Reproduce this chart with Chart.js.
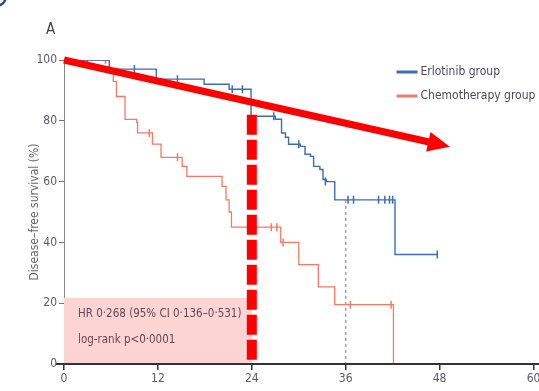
<!DOCTYPE html>
<html><head><meta charset="utf-8">
<script src="https://cdn.jsdelivr.net/npm/chart.js@4"></script>
<style>html,body{margin:0;padding:0;background:#fff;}canvas{display:block;}</style>
</head><body>
<canvas id="c" width="539" height="391"></canvas>
<script>
// ---- data ----
const xTicks = [0, 12, 24, 36, 48, 60];
const yTicks = [0, 20, 40, 60, 80, 100];
const seriesNames = ['Erlotinib group', 'Chemotherapy group'];

const erlotinibX = [0, 5.8, 11.8, 17.9, 21.1, 23.9, 27.0, 27.8, 28.3, 28.7, 30.2, 30.8, 31.5, 31.9, 32.7, 33.1, 33.5, 34.6, 42.3, 47.7];
const erlotinibY = [100, 97, 93.7, 92, 90.4, 81.5, 80.5, 76, 74.6, 72.3, 71.6, 69, 68.3, 65, 64, 60.7, 60, 54, 36, 36];
const erlotinibCensorX = [3, 9, 14.5, 21.5, 22.8, 26.8, 30.0, 33.4, 36.3, 37.0, 40.2, 41.0, 41.6, 42.0, 47.7];
const erlotinibCensorY = [100, 97, 93.7, 90.4, 90.4, 81.5, 72.3, 60, 54, 54, 54, 54, 54, 54, 36];

const chemoX = [0, 5.8, 6.3, 6.7, 7.8, 9.3, 9.4, 11.3, 12.4, 15.1, 15.7, 20.2, 20.7, 21.1, 21.4, 27.7, 30.0, 32.5, 34.6, 42.1];
const chemoY = [100, 96, 93, 88, 80.5, 79.5, 76, 72.3, 68, 65, 61.7, 58.4, 54, 50, 45, 40, 32.7, 25.4, 19.5, 0];
const chemoCensorX = [5.3, 10.9, 14.5, 26.5, 27.2, 28.0, 36.6, 41.8];
const chemoCensorY = [100, 76, 68, 45, 45, 40, 19.5, 19.5];

// annotations (data coordinates)
const hrBoxX = [0, 24];
const hrBoxY = [0, 21.8];
const hrText = ['HR 0·268 (95% CI 0·136–0·531)', 'log-rank p<0·0001'];
const cutoffLine = { x: 24, top: 82 };
const landmarkLine = { x: 36, top: 54 };
const arrowFrom = [0, 100];
const arrowTo = [49.3, 71.5];

const BLUE = '#3b6db4';
const RED = '#f47a64';
const NARROW = "'DejaVu Sans Condensed','Liberation Sans Narrow',sans-serif";

const pts = (xs, ys) => xs.map((v, i) => ({ x: v, y: ys[i] }));

const overlay = {
  id: 'overlay',
  beforeDatasetsDraw(chart) {
    const { ctx, scales: { x, y } } = chart;
    ctx.save();
    const bx0 = x.getPixelForValue(hrBoxX[0]), bx1 = x.getPixelForValue(hrBoxX[1]);
    const by0 = y.getPixelForValue(hrBoxY[1]), by1 = y.getPixelForValue(hrBoxY[0]);
    ctx.fillStyle = '#fcd4d4';
    ctx.fillRect(bx0, by0, bx1 - bx0, by1 - by0);
    ctx.strokeStyle = '#a0a0a0';
    ctx.lineWidth = 1.5;
    ctx.setLineDash([3, 3]);
    ctx.beginPath();
    ctx.moveTo(x.getPixelForValue(landmarkLine.x), y.getPixelForValue(landmarkLine.top));
    ctx.lineTo(x.getPixelForValue(landmarkLine.x), y.getPixelForValue(0));
    ctx.stroke();
    ctx.setLineDash([]);
    ctx.restore();
  },
  afterDatasetsDraw(chart) {
    const { ctx, chartArea, scales: { x, y } } = chart;
    ctx.save();
    ctx.fillStyle = '#6a4652';
    ctx.font = '11.5px ' + NARROW;
    ctx.textBaseline = 'middle';
    ctx.textAlign = 'left';
    const tx = x.getPixelForValue(hrBoxX[0]) + 14;
    ctx.fillText(hrText[0], tx, y.getPixelForValue(hrBoxY[1]) + 16);
    ctx.fillText(hrText[1], tx, y.getPixelForValue(hrBoxY[1]) + 42);

    ctx.strokeStyle = '#ff0000';
    ctx.lineWidth = 10;
    ctx.setLineDash([20, 5]);
    ctx.beginPath();
    ctx.moveTo(x.getPixelForValue(cutoffLine.x), y.getPixelForValue(cutoffLine.top));
    ctx.lineTo(x.getPixelForValue(cutoffLine.x), y.getPixelForValue(0));
    ctx.stroke();
    ctx.setLineDash([]);

    const ax0 = x.getPixelForValue(arrowFrom[0]), ay0 = y.getPixelForValue(arrowFrom[1]);
    const ax1 = x.getPixelForValue(arrowTo[0]), ay1 = y.getPixelForValue(arrowTo[1]);
    const ang = Math.atan2(ay1 - ay0, ax1 - ax0);
    const headL = 22, headW = 10;
    const sx = ax1 - headL * Math.cos(ang), sy = ay1 - headL * Math.sin(ang);
    ctx.strokeStyle = '#ff0000';
    ctx.fillStyle = '#ff0000';
    ctx.lineWidth = 7;
    ctx.beginPath();
    ctx.moveTo(ax0, ay0);
    ctx.lineTo(sx + 2 * Math.cos(ang), sy + 2 * Math.sin(ang));
    ctx.stroke();
    ctx.beginPath();
    ctx.moveTo(ax1, ay1);
    ctx.lineTo(sx + headW * Math.sin(ang), sy - headW * Math.cos(ang));
    ctx.lineTo(sx - headW * Math.sin(ang), sy + headW * Math.cos(ang));
    ctx.closePath();
    ctx.fill();

    ctx.strokeStyle = '#333';
    ctx.lineWidth = 2;
    ctx.beginPath();
    ctx.moveTo(chartArea.left - 8, chartArea.bottom);
    ctx.lineTo(chart.width, chartArea.bottom);
    ctx.stroke();

    const lx = chartArea.right - 137;
    const ly = [chartArea.top + 12, chartArea.top + 36];
    const cols = [BLUE, RED];
    ctx.font = '12px ' + NARROW;
    ctx.textBaseline = 'middle';
    for (let i = 0; i < 2; i++) {
      ctx.strokeStyle = cols[i];
      ctx.lineWidth = 3;
      ctx.beginPath();
      ctx.moveTo(lx, ly[i]);
      ctx.lineTo(lx + 21, ly[i]);
      ctx.stroke();
      ctx.fillStyle = '#4a4a5a';
      ctx.fillText(seriesNames[i], lx + 24, ly[i]);
    }

    ctx.fillStyle = '#444';
    ctx.font = '15px ' + NARROW;
    ctx.textBaseline = 'alphabetic';
    ctx.fillText('A', 46, 34);
    ctx.strokeStyle = '#2a4a8a';
    ctx.lineWidth = 2.5;
    ctx.beginPath();
    ctx.arc(-4, -4, 10, 0, Math.PI / 2);
    ctx.stroke();
    ctx.restore();
  }
};

new Chart(document.getElementById('c'), {
  type: 'line',
  data: {
    datasets: [
      { label: seriesNames[0], data: pts(erlotinibX, erlotinibY), borderColor: BLUE, borderWidth: 1.4, stepped: true, pointRadius: 0, fill: false },
      { label: seriesNames[1], data: pts(chemoX, chemoY), borderColor: RED, borderWidth: 1.3, stepped: true, pointRadius: 0, fill: false },
      { label: 'c1', data: pts(erlotinibCensorX, erlotinibCensorY), showLine: false, pointStyle: 'line', pointRotation: 90, pointRadius: 4, borderColor: BLUE, borderWidth: 1.5 },
      { label: 'c2', data: pts(chemoCensorX, chemoCensorY), showLine: false, pointStyle: 'line', pointRotation: 90, pointRadius: 4, borderColor: RED, borderWidth: 1.5 }
    ]
  },
  options: {
    responsive: false,
    animation: false,
    layout: { padding: { top: 60, right: 2, left: 0, bottom: 0 } },
    plugins: { legend: { display: false }, tooltip: { enabled: false } },
    scales: {
      x: {
        type: 'linear', min: 0, max: 60,
        afterBuildTicks(s) { s.ticks = xTicks.map(v => ({ value: v })); },
        grid: { display: true, drawOnChartArea: false, drawTicks: true, tickLength: 6, color: '#333', lineWidth: 1.5 },
        border: { display: true, color: '#333', width: 2 },
        ticks: { color: '#5a5a66', font: { family: NARROW, size: 12 }, padding: 2, maxRotation: 0, autoSkip: false },
        afterFit(s) { s.height = 27; s.paddingLeft = 0; s.paddingRight = 0; }
      },
      y: {
        min: 0, max: 100,
        afterBuildTicks(s) { s.ticks = yTicks.map(v => ({ value: v })); },
        grid: { display: true, drawOnChartArea: false, drawTicks: true, tickLength: 5, color: '#777', lineWidth: 1 },
        border: { display: true, color: '#888', width: 1 },
        ticks: { color: '#5a5a66', font: { family: NARROW, size: 12 }, padding: 2 },
        title: { display: true, text: 'Disease–free survival (%)', color: '#666', font: { family: NARROW, size: 12 }, padding: { top: 28, bottom: 0 } },
        afterFit(s) { s.width = 64; s.paddingTop = 0; s.paddingBottom = 0; }
      }
    }
  },
  plugins: [overlay]
});
</script>
</body></html>
